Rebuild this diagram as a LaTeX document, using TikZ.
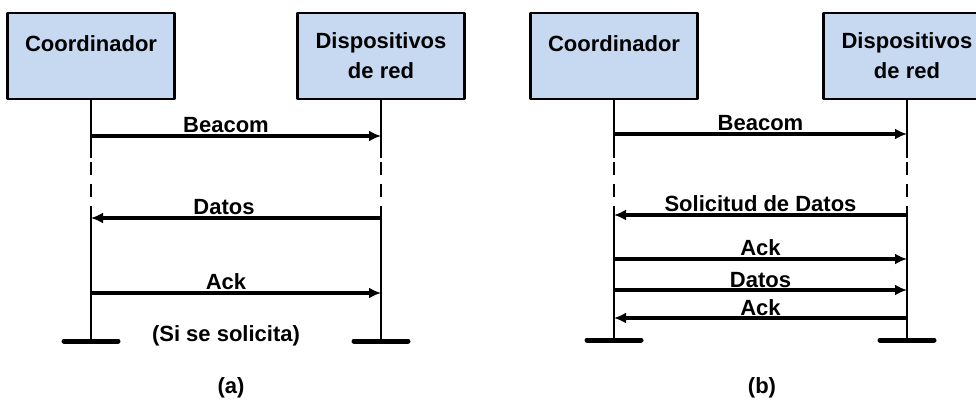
\documentclass[tikz,border=0pt]{standalone}
\usepackage{fontspec}
\setmainfont{Liberation Sans}
\usetikzlibrary{arrows.meta}
\definecolor{boxblue}{RGB}{198,217,241}

\begin{document}
\begin{tikzpicture}[line cap=round,line join=round,>={Latex[length=6pt,width=5.5pt]},x=0.5pt,y=-0.5pt,
	box/.style={draw=black,line width=1.4pt,fill=boxblue,minimum width=83.5pt,minimum height=43pt,inner sep=0pt,align=center,font=\fontsize{11}{15}\selectfont\bfseries},
	boxtxt/.style={inner sep=0pt,font=\fontsize{11}{15}\selectfont\bfseries},
	life/.style={line width=1.2pt,line cap=butt},
	gap/.style={life,dash pattern=on 6.5pt off 4.5pt,dash phase=9pt},
	msg/.style={line width=1.6pt,line cap=butt,->},
	foot/.style={line width=2.5pt},
	lab/.style={inner sep=0pt,anchor=base,yshift=1.5pt,font=\fontsize{11}{13}\selectfont\bfseries}]
			\clip (0,0) rectangle (976,401);
			% (a)
			\node[box,label={[boxtxt,anchor=north,yshift=-12pt]north:Coordinador}] (coordA) at (91,56) {};
			\node[box] (dispA) at (381,56) {Dispositivos\\de red};
			\coordinate (aDash) at (0,158);
			\coordinate (aBeacom) at (0,136);
			\coordinate (aDatos) at (0,218);
			\coordinate (aAck) at (0,293);
			\coordinate (aEnd) at (0,341);
			\coordinate (coordAend) at (coordA |- aEnd);
			\coordinate (dispAend) at (dispA |- aEnd);
			\draw [life] (coordA.south) -- (coordA |- aDash);
			\draw [gap] (coordA |- aDash) -- (coordA |- aDatos);
			\draw [life] (coordA |- aDatos) -- (coordAend);
			\draw [life] (dispA.south) -- (dispA |- aDash);
			\draw [gap] (dispA |- aDash) -- (dispA |- aDatos);
			\draw [life] (dispA |- aDatos) -- (dispAend);
			\draw [foot] ([xshift=-13.5pt]coordAend) -- ([xshift=13.5pt]coordAend);
			\draw [foot] ([xshift=-13.5pt]dispAend) -- ([xshift=13.5pt]dispAend);
			\draw [msg] (coordA |- aBeacom) -- node[lab,xshift=-5pt] {Beacom} (dispA |- aBeacom);
			\draw [msg] (dispA |- aDatos) -- node[lab,xshift=-6pt] {Datos} (coordA |- aDatos);
			\draw [msg] (coordA |- aAck) -- node[lab,xshift=-5pt] {Ack} (dispA |- aAck);
			\node[lab,yshift=-1.5pt] (solA) at (226,342) {(Si se solicita)};
			\node[boxtxt] (capA) at (231,388) {(a)};
			% (b)
			\node[box,label={[boxtxt,anchor=north,yshift=-12pt]north:Coordinador}] (coordB) at (614,56) {};
			\node[box] (dispB) at (907,56) {Dispositivos\\de red};
			\coordinate (bDash) at (0,158);
			\coordinate (bBeacom) at (0,134);
			\coordinate (bSol) at (0,215);
			\coordinate (bAck) at (0,259);
			\coordinate (bDatos) at (0,290);
			\coordinate (bAckB) at (0,318);
			\coordinate (bEnd) at (0,340);
			\coordinate (coordBend) at (coordB |- bEnd);
			\coordinate (dispBend) at (dispB |- bEnd);
			\draw [life] (coordB.south) -- (coordB |- bDash);
			\draw [gap] (coordB |- bDash) -- (coordB |- bSol);
			\draw [life] (coordB |- bSol) -- (coordBend);
			\draw [life] (dispB.south) -- (dispB |- bDash);
			\draw [gap] (dispB |- bDash) -- (dispB |- bSol);
			\draw [life] (dispB |- bSol) -- (dispBend);
			\draw [foot] ([xshift=-13.5pt]coordBend) -- ([xshift=13.5pt]coordBend);
			\draw [foot] ([xshift=-13.5pt]dispBend) -- ([xshift=13.5pt]dispBend);
			\draw [msg] (coordB |- bBeacom) -- node[lab] {Beacom} (dispB |- bBeacom);
			\draw [msg] (dispB |- bSol) -- node[lab] {Solicitud de Datos} (coordB |- bSol);
			\draw [msg] (coordB |- bAck) -- node[lab] {Ack} (dispB |- bAck);
			\draw [msg] (coordB |- bDatos) -- node[lab] {Datos} (dispB |- bDatos);
			\draw [msg] (dispB |- bAckB) -- node[lab] {Ack} (coordB |- bAckB);
			\node[boxtxt] (capB) at (762,388) {(b)};
		\end{tikzpicture}
\end{document}
